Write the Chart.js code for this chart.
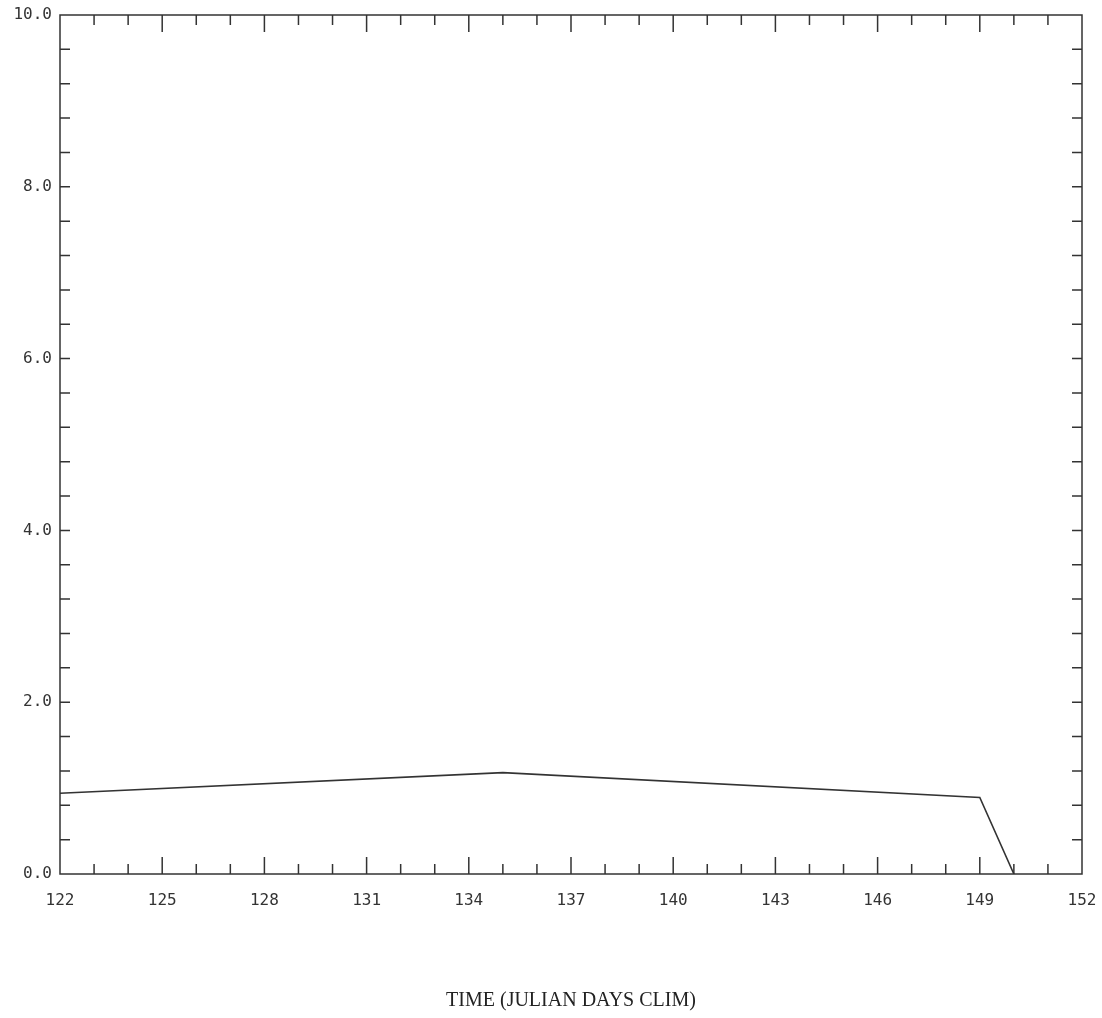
<!DOCTYPE html>
<html>
<head>
<meta charset="utf-8">
<script src="https://cdn.jsdelivr.net/npm/chart.js@4/dist/chart.umd.min.js"></script>
<style>
  html, body { margin: 0; padding: 0; background: #fff; }
  #wrap { width: 1102px; height: 1018px; }
</style>
</head>
<body>
<div id="wrap"><canvas id="plot"></canvas></div>
<script>
// julian day / value pairs
var days = [122, 135, 149, 150];
var vals = [0.94, 1.18, 0.89, 0.0];

var xMin = 122, xMax = 152, xLabelStep = 3;
var yMin = 0, yMax = 10, yLabelStep = 2, yMinorStep = 0.4;
var xTitle = 'TIME (JULIAN DAYS CLIM)';

var points = days.map(function (d, i) { return { x: d, y: vals[i] }; });

var lineCol = '#333';

// frame + inward tick marks on all four sides
const frameTicks = {
    id: 'frameTicks',
    afterDraw: function (chart) {
        var ctx = chart.ctx;
        var a = chart.chartArea;
        var xs = chart.scales.x, ys = chart.scales.y;
        ctx.save();
        ctx.strokeStyle = lineCol;
        ctx.lineWidth = 1.5;
        ctx.strokeRect(a.left, a.top, a.right - a.left, a.bottom - a.top);
        ctx.beginPath();
        for (var d = xMin + 1; d < xMax; d++) {
            var px = xs.getPixelForValue(d);
            var len = ((d - xMin) % xLabelStep === 0) ? 17 : 10;
            ctx.moveTo(px, a.bottom); ctx.lineTo(px, a.bottom - len);
            ctx.moveTo(px, a.top); ctx.lineTo(px, a.top + len);
        }
        var n = Math.round((yMax - yMin) / yMinorStep);
        for (var k = 1; k < n; k++) {
            var py = ys.getPixelForValue(yMin + k * yMinorStep);
            ctx.moveTo(a.left, py); ctx.lineTo(a.left + 10, py);
            ctx.moveTo(a.right, py); ctx.lineTo(a.right - 10, py);
        }
        ctx.stroke();
        ctx.restore();
    }
};

const myChart = new Chart(document.getElementById('plot').getContext('2d'),
{
    type: 'line',
    plugins: [frameTicks],
    data:
    {
        datasets:
        [{
            data: points,
            borderColor: lineCol,
            borderWidth: 1.6,
            pointRadius: 0,
            tension: 0,
            fill: false
        }]
    },
    options:
    {
        responsive: true,
        maintainAspectRatio: false,
        animation: false,
        layout: { padding: { left: 0, right: 20, top: 15, bottom: 0 } },
        plugins:
        {
            legend: { display: false },
            tooltip: { enabled: false }
        },
        scales:
        {
            x:
            {
                type: 'linear',
                min: xMin,
                max: xMax,
                grid: { display: false, drawTicks: false },
                border: { display: false },
                ticks:
                {
                    stepSize: xLabelStep,
                    autoSkip: false,
                    maxRotation: 0,
                    padding: 17,
                    color: '#333',
                    font: { family: 'DejaVu Sans Mono', size: 16 }
                },
                title:
                {
                    display: true,
                    text: xTitle,
                    color: '#222',
                    padding: { top: 0, bottom: 5 },
                    font: { family: 'Liberation Serif', size: 20 }
                },
                afterFit: function (s) {
                    s.height = 144;
                    s.paddingLeft = 0;
                    s.paddingRight = 0;
                }
            },
            y:
            {
                type: 'linear',
                min: yMin,
                max: yMax,
                grid: { display: false, drawTicks: false },
                border: { display: false },
                ticks:
                {
                    stepSize: yLabelStep,
                    padding: 8,
                    color: '#333',
                    font: { family: 'DejaVu Sans Mono', size: 16 },
                    callback: function (v) { return v.toFixed(1); }
                },
                afterFit: function (s) {
                    s.width = 60;
                    s.paddingTop = 0;
                    s.paddingBottom = 0;
                }
            }
        }
    }
});
</script>
</body>
</html>
